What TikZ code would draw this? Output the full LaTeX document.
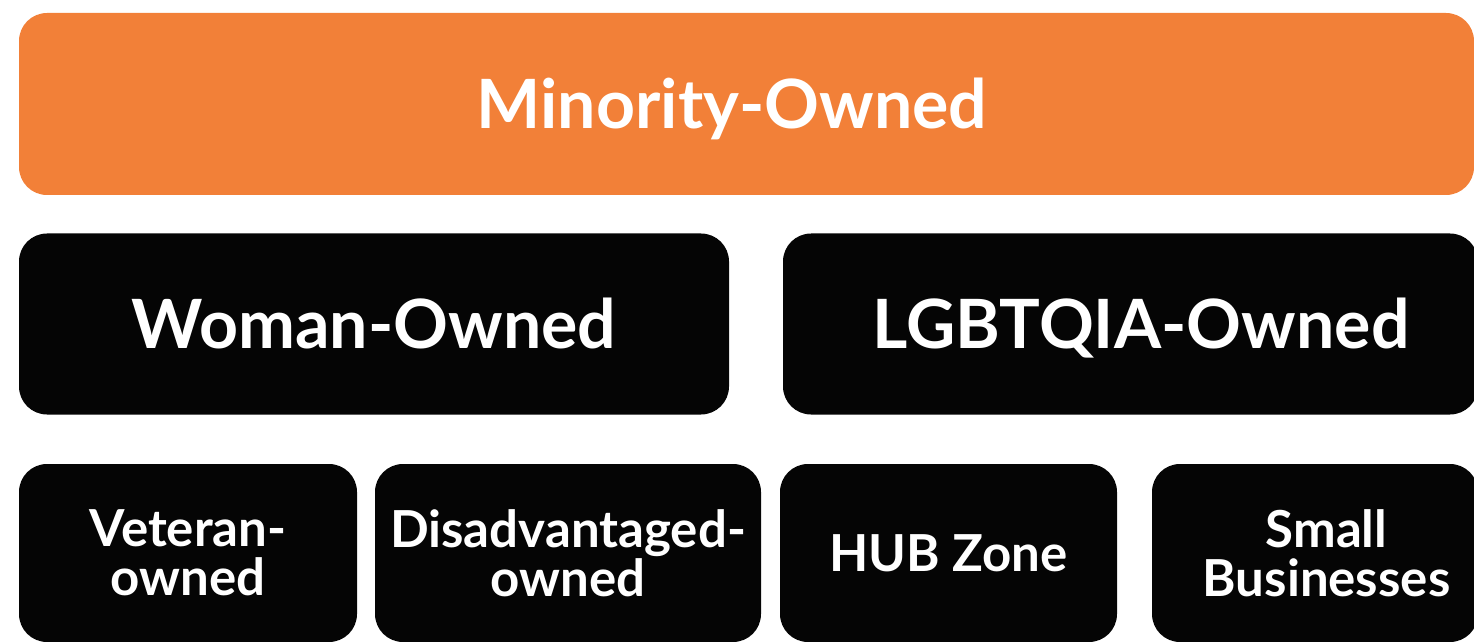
\documentclass[tikz,border=0pt]{standalone}
\usepackage{fontspec}
\setmainfont{Lato}
\usetikzlibrary{positioning}

\definecolor{ownorange}{HTML}{F28038}
\definecolor{ownblack}{HTML}{050505}

\begin{document}
\begin{tikzpicture}[
    x=0.5pt, y=-0.5pt,
    tier/.style = {rectangle, rounded corners=14pt, inner sep=0pt, align=center, text=white, font=\bfseries},
    toptier/.style = {tier, fill=ownorange, minimum width=727.5pt, minimum height=91pt, text height=24.5pt, text depth=0pt, font=\bfseries\fontsize{34}{40}\selectfont},
    midtier/.style = {tier, fill=ownblack, minimum height=90.5pt, text height=24.5pt, text depth=0pt, font=\bfseries\fontsize{34}{40}\selectfont},
    lowtier/.style = {tier, fill=ownblack, minimum height=89pt, font=\bfseries\fontsize{25.5}{24.5}\selectfont}
]
\useasboundingbox (0,0) rectangle (1474,642);
\clip (0,0) rectangle (1474,642);

% top row
\node[toptier] (minority) at (746.5,104) {Minority-Owned\hspace*{14.5pt}};

% middle row
\node[midtier, minimum width=355pt] (woman) at (374,324) {Woman-Owned};
\node[midtier, minimum width=347.5pt] (lgbtqia) at (1130.5,324) {\hspace*{10.5pt}LGBTQIA-Owned};

% bottom row
\node[lowtier, minimum width=169pt] (veteran) at (188,553) {Veteran-\\owned};
\node[lowtier, minimum width=193pt] (disadv) at (568,553) {Disadvantaged-\\owned};
\node[lowtier, minimum width=168.5pt, text height=18pt, text depth=0pt] (hubzone) at (948.5,553) {HUB Zone};
\node[lowtier, minimum width=163pt] (small) at (1315,553) {\hspace*{11.5pt}Small\\\hspace*{11.5pt}Businesses};

\end{tikzpicture}
\end{document}
